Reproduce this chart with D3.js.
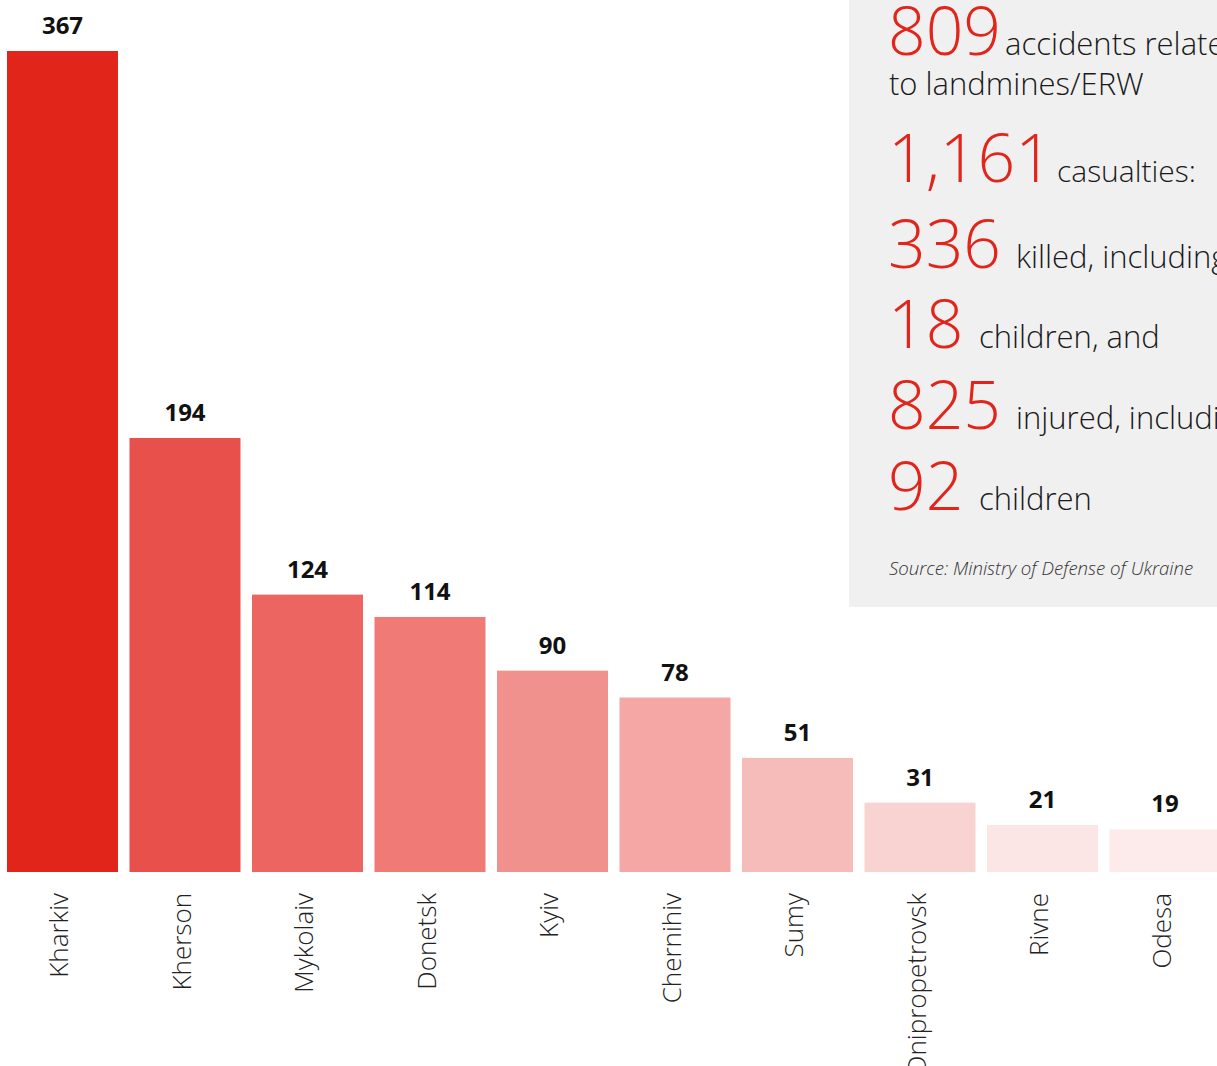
<!DOCTYPE html>
<html>
<head>
<meta charset="utf-8">
<script src="https://d3js.org/d3.v7.min.js"></script>
<style>
    html, body { margin: 0; padding: 0; background: #fff; overflow: hidden; }
    svg { display: block; font-family: "Open Sans", "Noto Sans", sans-serif; }
</style>
</head>
<body>
<div id="chart"></div>
<script>
// регионы и количество инцидентов
const regions = ['Kharkiv', 'Kherson', 'Mykolaiv', 'Donetsk', 'Kyiv', 'Chernihiv', 'Sumy', 'Dnipropetrovsk', 'Rivne', 'Odesa'];
const accidents = [367, 194, 124, 114, 90, 78, 51, 31, 21, 19];
const barColors = ['#e1251b', '#e8514b', '#ec6560', '#ef7a76', '#f1918d', '#f4a7a4', '#f6bcba', '#f8d3d2', '#fbe6e5', '#fcebea'];

// summary box lines
const statNumbers = ['809', '1,161', '336', '18', '825', '92'];
const statTexts = ['accidents related', 'casualties:', 'killed, including', 'children, and', 'injured, including', 'children'];
const sourceText = 'Source: Ministry of Defense of Ukraine';

const width = 1217;
const height = 1066;
const baseline = 872;

const svg = d3.select('#chart')
    .append('svg')
    .attr('width', width)
    .attr('height', height);

const x = d3.scaleBand()
    .domain(regions)
    .range([7, 7 + 122.5 * (regions.length - 0.094)])
    .paddingInner(0.094)
    .paddingOuter(0);

const y = d3.scaleLinear()
    .domain([0, 367])
    .range([baseline, 51]);

const color = d3.scaleOrdinal().domain(regions).range(barColors);

const data = regions.map((r, i) => ({ region: r, value: accidents[i] }));

// info box
const box = svg.append('g').attr('class', 'info-box');
box.append('rect')
    .attr('x', 849)
    .attr('y', -2)
    .attr('width', 400)
    .attr('height', 609)
    .attr('fill', '#f0f0f0');

const lineBase = [55, 182, 268, 348, 429, 510];
const textX = [1005, 1057, 1016, 979, 1016, 979];

statNumbers.forEach((n, i) => {
    box.append('text')
        .attr('x', 888)
        .attr('y', lineBase[i])
        .attr('font-size', '66px')
        .attr('font-weight', 300)
        .attr('fill', '#e1251b')
        .text(n);
    box.append('text')
        .attr('x', textX[i])
        .attr('y', lineBase[i])
        .attr('font-size', i === 1 ? '30px' : '31px')
        .attr('font-weight', 300)
        .attr('fill', '#1a1a1a')
        .text(statTexts[i]);
});

box.append('text')
    .attr('x', 889)
    .attr('y', 95)
    .attr('font-size', '31px')
    .attr('font-weight', 300)
    .attr('fill', '#1a1a1a')
    .text('to landmines/ERW');

box.append('text')
    .attr('x', 889)
    .attr('y', 575)
    .attr('font-size', '18.6px')
    .attr('font-weight', 300)
    .attr('font-style', 'italic')
    .attr('fill', '#333')
    .text(sourceText);

// bars
const bars = svg.append('g').attr('class', 'bars');

bars.selectAll('rect')
    .data(data)
    .join('rect')
    .attr('x', d => x(d.region))
    .attr('y', d => y(d.value))
    .attr('width', x.bandwidth())
    .attr('height', d => baseline - y(d.value))
    .attr('fill', d => color(d.region));

bars.selectAll('.value-label')
    .data(data)
    .join('text')
    .attr('class', 'value-label')
    .attr('x', d => x(d.region) + x.bandwidth() / 2)
    .attr('y', d => y(d.value) - 17)
    .attr('text-anchor', 'middle')
    .attr('font-size', '24px')
    .attr('font-weight', 'bold')
    .attr('fill', '#111')
    .text(d => d.value);

// rotated region names
bars.selectAll('.region-label')
    .data(data)
    .join('text')
    .attr('class', 'region-label')
    .attr('transform', d => `translate(${x(d.region) + x.bandwidth() / 2 + 6},893) rotate(-90)`)
    .attr('text-anchor', 'end')
    .attr('font-size', '26px')
    .attr('font-weight', 300)
    .attr('fill', '#222')
    .text(d => d.region);
</script>
</body>
</html>
